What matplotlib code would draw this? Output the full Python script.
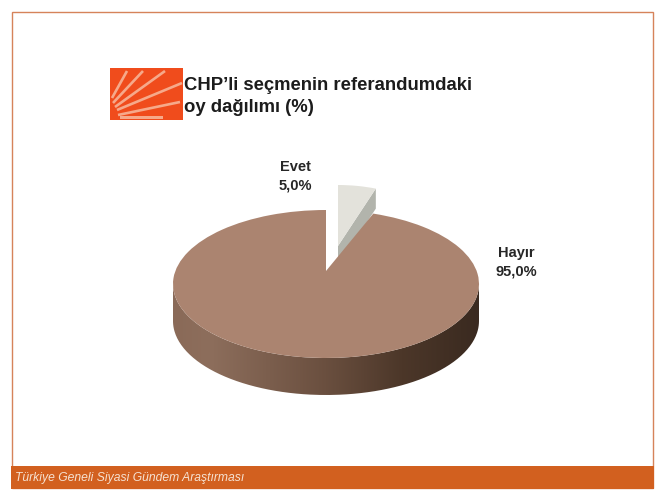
import numpy as np
import matplotlib
matplotlib.use('Agg')
import matplotlib.pyplot as plt
from matplotlib.colors import LinearSegmentedColormap
from matplotlib.patches import PathPatch, Rectangle
from matplotlib.path import Path

labels = ['Evet', 'Hayır']
values = [5.0, 95.0]
title_lines = ['CHP’li seçmenin referandumdaki', 'oy dağılımı (%)']
footer = 'Türkiye Geneli Siyasi Gündem Araştırması'

plt.rcParams['font.family'] = ['Liberation Sans', 'DejaVu Sans']

W, H = 665, 500
fig = plt.figure(figsize=(W / 100, H / 100), dpi=100, facecolor='white')

# whole figure in pixel coordinates for frame, logo and text
ax = fig.add_axes([0, 0, 1, 1])
ax.set_xlim(0, W)
ax.set_ylim(H, 0)
ax.axis('off')

# frame and footer band
ax.add_patch(Rectangle((12, 12), 641, 476, fill=False, ec='#d6835a', lw=1.0))
ax.add_patch(Rectangle((11, 466), 643, 23, fc='#d2601f', ec='none'))
ax.text(15, 478, footer, color='#f6e2d2', fontsize=8.7, style='italic', va='center')

# logo
ax.add_patch(Rectangle((110, 68), 73, 52, fc='#f04c1c', ec='none'))
ray_start = [(112, 98), (113, 103), (115, 107), (117, 110), (118, 115)]
ray_end = [(127, 71), (143, 71), (165, 71), (182, 83), (180, 102)]
for s, e in zip(ray_start, ray_end):
    ax.plot([s[0], e[0]], [s[1], e[1]], color='#f6a98a', lw=1.9, solid_capstyle='butt')
ax.add_patch(Rectangle((120, 116), 43, 3, fc='#f6a98a', ec='none'))

# title
ax.text(184, 85, title_lines[0], fontsize=13.3, fontweight='bold', color='#1c1c1c', va='center')
ax.text(184, 108, title_lines[1], fontsize=13.3, fontweight='bold', color='#1c1c1c', va='center')

# pie geometry in pixels
cx, cy, rx, ry, depth = 326, 284, 153, 74, 37

# pie side with horizontal gradient
t = np.linspace(0, np.pi, 200)
xs = cx + rx * np.cos(t)
ys = cy + ry * np.sin(t)
side = np.column_stack([np.r_[xs, xs[::-1]], np.r_[ys + depth, ys[::-1]]])
cmap = LinearSegmentedColormap.from_list('side', [(0, '#8a6a58'), (0.12, '#8d6e5c'), (0.5, '#6a4f3f'),
                                                  (0.75, '#4c3729'), (1, '#3a2a20')])
grad = ax.imshow(np.linspace(0, 1, 256).reshape(1, -1), cmap=cmap, aspect='auto',
                 extent=(cx - rx, cx + rx, cy + ry + depth, cy))
grad.set_clip_path(PathPatch(Path(side), transform=ax.transData))
ax.set_xlim(0, W)
ax.set_ylim(H, 0)

# pie top surface, squashed into its own axes
pie_ax = fig.add_axes([(cx - rx) / W, (H - cy - ry) / H, 2 * rx / W, 2 * ry / H])
wedges, _ = pie_ax.pie(values, startangle=90, counterclock=False, colors=['#e3e2db', '#ab8470'],
                       wedgeprops={'clip_on': False, 'lw': 0})
pie_ax.set_aspect('auto')
pie_ax.set_xlim(-1, 1)
pie_ax.set_ylim(-1, 1)
pie_ax.patch.set_alpha(0)

# apex of the perspective sits above the ellipse centre
apex_up = 13 / ry
wedges[1].set_zorder(3)
v = wedges[1].get_path().vertices
v[np.all(np.isclose(v, 0), axis=1), 1] += apex_up

# exploded slice, pulled up and to the right
wedges[0].set_zorder(2)
v = wedges[0].get_path().vertices
is_apex = np.all(np.isclose(v, 0), axis=1)
v[is_apex, 1] += apex_up
v[:, 0] = v[:, 0] * 0.8 + 12 / rx
v[:, 1] += 25 / ry
rim = v[np.argmax(v[:, 0])]
apex = v[is_apex][0]
drop = np.array([0, 20 / ry])
pie_ax.fill(*np.array([apex, rim, rim - drop, apex - drop]).T, color='#b2b4ac', lw=0, zorder=1, clip_on=False)

# slice labels
ax.set_zorder(0)
pie_ax.set_zorder(1)
txt = dict(fontsize=10.5, fontweight='bold', color='#262626', ha='center', va='center')
label_pos = [(295, 167), (516, 253)]
for name, val, (x, y) in zip(labels, values, label_pos):
    ax.text(x, y, name, **txt)
    ax.text(x, y + 19, f'{val:.1f}%'.replace('.', ','), **txt)

fig.savefig('out.png', dpi=100)
